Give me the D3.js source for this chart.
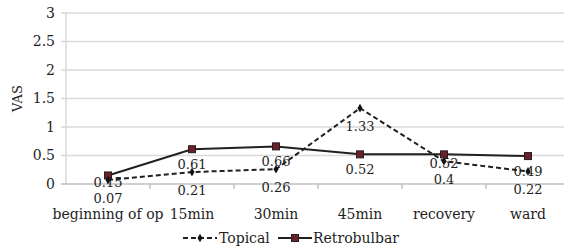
<!DOCTYPE html>
<html>
<head>
<meta charset="utf-8">
<script src="https://cdn.jsdelivr.net/npm/d3@7"></script>
<style>
  body { margin: 0; background: #fff; }
  text { font-family: "DejaVu Serif", serif; font-size: 14px; fill: #1e1e1e; }
  .val { font-size: 13px; }
</style>
</head>
<body>
<div id="chart"></div>
<script>
var categories = ["beginning of op", "15min", "30min", "45min", "recovery", "ward"];
var topical = [0.07, 0.21, 0.26, 1.33, 0.4, 0.22];
var retrobulbar = [0.15, 0.61, 0.66, 0.52, 0.52, 0.49];
var yTicks = [0, 0.5, 1, 1.5, 2, 2.5, 3];

var width = 564, height = 251;

var svg = d3.select("#chart").append("svg")
    .attr("width", width)
    .attr("height", height);

var x = d3.scaleBand().domain(categories).range([66, 570]);
var y = d3.scaleLinear().domain([0, 3]).range([184, 13]);

// gridlines
svg.append("g").selectAll("line")
  .data(yTicks.slice(1))
  .enter().append("line")
  .attr("x1", 61).attr("x2", width)
  .attr("y1", function(d) { return y(d); })
  .attr("y2", function(d) { return y(d); })
  .attr("stroke", "#d9d9d9")
  .attr("stroke-width", 1.5);

// y axis line
svg.append("line")
  .attr("x1", 66).attr("x2", 66)
  .attr("y1", y(3)).attr("y2", y(0))
  .attr("stroke", "#d9d9d9").attr("stroke-width", 1.5);

// x axis
var xAxis = d3.axisBottom(x).tickSize(0).tickFormat("");
svg.append("g")
  .attr("transform", "translate(0," + y(0) + ")")
  .call(xAxis)
  .call(function(g) { g.select(".domain").attr("stroke", "#bfbfbf").attr("stroke-width", 1.5).attr("d", "M61,0H" + width); });

// band ticks
svg.append("g").selectAll("line")
  .data(categories.slice(1))
  .enter().append("line")
  .attr("x1", function(d) { return x(d); })
  .attr("x2", function(d) { return x(d); })
  .attr("y1", y(0)).attr("y2", y(0) + 5)
  .attr("stroke", "#bfbfbf").attr("stroke-width", 1.5);

// y tick labels
svg.append("g").selectAll("text")
  .data(yTicks)
  .enter().append("text")
  .attr("x", 55)
  .attr("y", function(d) { return y(d); })
  .attr("dy", "0.35em")
  .style("text-anchor", "end")
  .text(function(d) { return d; });

svg.append("text")
  .attr("transform", "translate(17," + y(1.5) + ") rotate(-90)")
  .attr("dy", "0.35em")
  .style("text-anchor", "middle")
  .style("font-size", "13px")
  .text("VAS");

// category labels
svg.append("g").selectAll("text")
  .data(categories)
  .enter().append("text")
  .attr("x", function(d) { return x(d) + x.bandwidth() / 2; })
  .attr("y", 219)
  .style("text-anchor", "middle")
  .text(function(d) { return d; });

var cx = function(d, i) { return x(categories[i]) + x.bandwidth() / 2; };

var line = d3.line()
  .x(function(d, i) { return cx(d, i); })
  .y(function(d) { return y(d); });

svg.append("path")
  .datum(retrobulbar)
  .attr("d", line)
  .attr("fill", "none")
  .attr("stroke", "#231f20")
  .attr("stroke-width", 2);

svg.append("path")
  .datum(topical)
  .attr("d", line)
  .attr("fill", "none")
  .attr("stroke", "#231f20")
  .attr("stroke-width", 2)
  .attr("stroke-dasharray", "5,3");

svg.append("g").selectAll("rect")
  .data(retrobulbar)
  .enter().append("rect")
  .attr("x", function(d, i) { return cx(d, i) - 3.5; })
  .attr("y", function(d) { return y(d) - 3.5; })
  .attr("width", 7).attr("height", 7)
  .attr("fill", "#6b1f2a")
  .attr("stroke", "#231f20")
  .attr("stroke-width", 1);

var diamond = d3.symbol().type(d3.symbolDiamond).size(22);
svg.append("g").selectAll("path")
  .data(topical)
  .enter().append("path")
  .attr("d", diamond)
  .attr("transform", function(d, i) { return "translate(" + cx(d, i) + "," + y(d) + ")"; })
  .attr("fill", "#111");

// value labels below points; push retrobulbar label up when it crowds the topical one
var topY = topical.map(function(d) { return y(d) + 18; });
var retY = retrobulbar.map(function(d, i) {
  var ly = y(d) + 15;
  if (ly < topY[i] && topY[i] - ly < 15.5) ly = topY[i] - 15.5;
  return ly;
});

function labels(vals, ys) {
  svg.append("g").selectAll("text")
    .data(vals)
    .enter().append("text")
    .attr("class", "val")
    .attr("x", function(d, i) { return cx(d, i); })
    .attr("y", function(d, i) { return ys[i]; })
    .attr("dy", "0.35em")
    .style("text-anchor", "middle")
    .text(function(d) { return d; });
}
labels(retrobulbar, retY);
labels(topical, topY);

// legend
var leg = svg.append("g").attr("transform", "translate(0,238)");
leg.append("line").attr("x1", 183).attr("x2", 217).attr("y1", 0).attr("y2", 0)
  .attr("stroke", "#231f20").attr("stroke-width", 2).attr("stroke-dasharray", "5,3");
leg.append("path").attr("d", diamond).attr("transform", "translate(200,0)").attr("fill", "#111");
leg.append("text").attr("x", 219).attr("dy", "0.35em").text("Topical");
leg.append("line").attr("x1", 278).attr("x2", 312).attr("y1", 0).attr("y2", 0)
  .attr("stroke", "#231f20").attr("stroke-width", 2);
leg.append("rect").attr("x", 291.5).attr("y", -3.5).attr("width", 7).attr("height", 7)
  .attr("fill", "#6b1f2a").attr("stroke", "#231f20");
leg.append("text").attr("x", 313).attr("dy", "0.35em").text("Retrobulbar");
</script>
</body>
</html>
